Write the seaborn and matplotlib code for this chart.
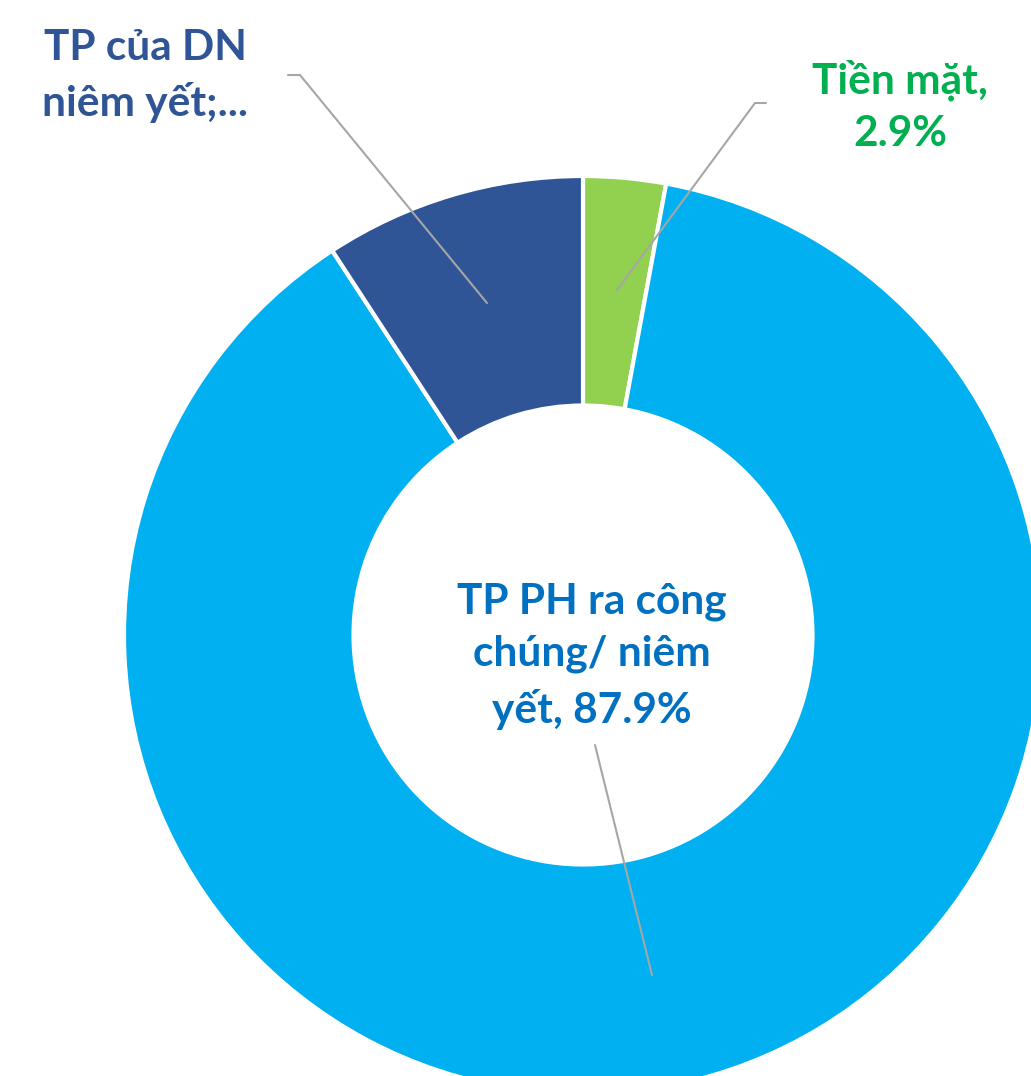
import matplotlib
matplotlib.use("Agg")
import matplotlib.pyplot as plt
import seaborn as sns

sns.set_theme(style="white")
plt.rcParams['font.family'] = ['Lato', 'DejaVu Sans']

categories = ["Tiền mặt", "TP PH ra công chúng/ niêm yết", "TP của DN niêm yết"]
values = [2.9, 87.9, 9.2]
colors = ["#92D050", "#00B0F0", "#2F5597"]
label_texts = ["Tiền mặt,\n2.9%", "TP PH ra công\nchúng/ niêm\nyết, 87.9%", "TP của DN\nniêm yết;..."]
label_colors = ["#00B050", "#0070C0", "#2F5597"]

W, H = 1031, 1076
fig = plt.figure(figsize=(W / 100, H / 100), dpi=100)
cx, cy, R = 583, 635, 459
ax = fig.add_axes([(cx - R) / W, (H - cy - R) / H, 2 * R / W, 2 * R / H])
ax.pie(values, colors=colors, startangle=90, counterclock=False,
       radius=1.0, wedgeprops=dict(width=0.5, edgecolor="white", linewidth=3))
ax.set_xlim(-1, 1)
ax.set_ylim(-1, 1)
ax.axis("off")

def d(px, py):
    return ((px - cx) / R, (cy - py) / R)

line_kw = dict(color="#A6A6A6", lw=1.5)
fs = 30.5
ls = 1.45

# Green label
ax.plot(*zip(d(617, 290), d(755, 103), d(766, 103)), **line_kw, clip_on=False)
ax.text(*d(900, 106), label_texts[0], color=label_colors[0], fontsize=fs, fontweight="bold",
        ha="center", va="center", linespacing=ls)

# Center label
ax.plot(*zip(d(652, 975), d(595, 745)), **line_kw, clip_on=False)
ax.text(*d(592, 656), label_texts[1], color=label_colors[1], fontsize=fs, fontweight="bold",
        ha="center", va="center", linespacing=ls)

# Dark blue label
ax.plot(*zip(d(487, 303), d(300, 75), d(288, 75)), **line_kw, clip_on=False)
ax.text(*d(145, 76), label_texts[2], color=label_colors[2], fontsize=fs, fontweight="bold",
        ha="center", va="center", linespacing=ls)

fig.savefig("out.png", dpi=100)
